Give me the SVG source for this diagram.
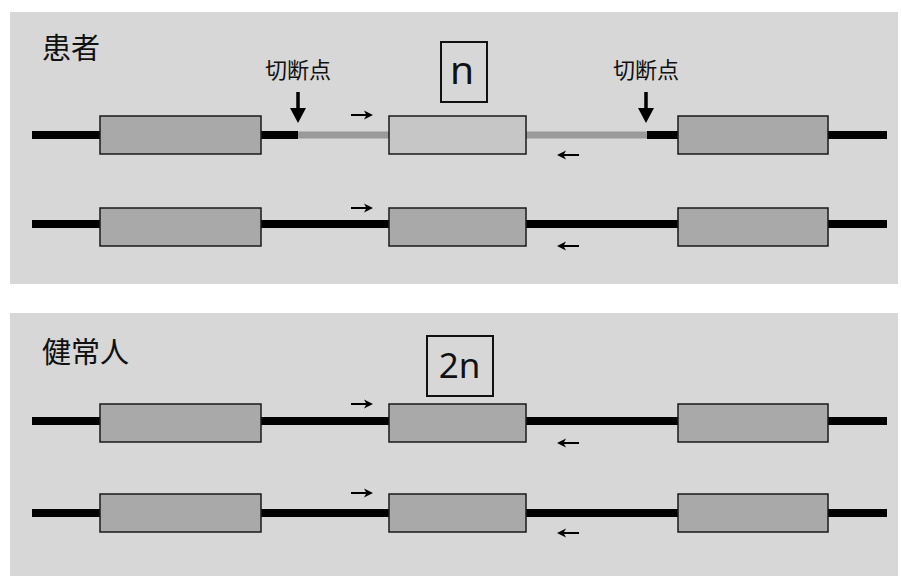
<svg xmlns="http://www.w3.org/2000/svg" width="901" height="576" viewBox="0 0 901 576">
  <style>
    .panel { fill: #d7d7d7; }
    .exon { fill: #a9a9a9; stroke: #1a1a1a; stroke-width: 1.5; }
    .exon-lite { fill: #c6c6c6; stroke: #1a1a1a; stroke-width: 1.5; }
    .dna { stroke: #000; stroke-width: 8; fill: none; }
    .dna-del { stroke: #9a9a9a; stroke-width: 7; fill: none; }
    .primer { stroke: #000; stroke-width: 2; fill: none; }
    .cut { stroke: #000; stroke-width: 3.5; fill: none; }
    .title { font-family: "Noto Sans CJK JP", "Noto Sans", sans-serif; font-size: 29px; fill: #111; }
    .cutlabel { font-family: "Noto Sans CJK JP", "Noto Sans", sans-serif; font-size: 22px; fill: #111; }
    .copy { font-family: "Noto Sans", "Open Sans", sans-serif; fill: #111; }
    .copybox { fill: none; stroke: #111; stroke-width: 2; }
  </style>
  <defs>
    <!-- primer arrowhead, drawn pointing right from its origin -->
    <path id="head" d="M0,0 L-9,-4.5 L-6.5,0 L-9,4.5 Z" fill="#000"/>
  </defs>

  <rect x="0" y="0" width="901" height="576" fill="#ffffff"/>

  <!-- panel backgrounds -->
  <g id="panel-patient">
    <rect class="panel" x="10" y="12" width="888" height="272"/>
    <text class="title" x="42" y="59">患者</text>
  </g>
  <g id="panel-healthy">
    <rect class="panel" x="10" y="313" width="888" height="263"/>
    <text class="title" x="42" y="363" font-size="31">健常人</text>
  </g>

  <!-- DNA strands and primers -->
  <g id="connectors">
    <!-- patient, allele with deletion -->
    <line class="dna" x1="32" y1="135" x2="298" y2="135"/>
    <line class="dna-del" x1="298" y1="135" x2="390" y2="135"/>
    <line class="dna-del" x1="525" y1="135" x2="647" y2="135"/>
    <line class="dna" x1="647" y1="135" x2="887" y2="135"/>
    <!-- patient, intact allele -->
    <line class="dna" x1="32" y1="224" x2="887" y2="224"/>
    <!-- healthy alleles -->
    <line class="dna" x1="32" y1="421" x2="887" y2="421"/>
    <line class="dna" x1="32" y1="513" x2="887" y2="513"/>

    <!-- breakpoint arrows -->
    <line class="cut" x1="298" y1="92" x2="298" y2="112"/>
    <path d="M290,108 L306,108 L298,123 Z" fill="#000"/>
    <line class="cut" x1="646" y1="92" x2="646" y2="112"/>
    <path d="M638,108 L654,108 L646,123 Z" fill="#000"/>

    <!-- forward primers -->
    <line class="primer" x1="351" y1="115" x2="368" y2="115"/>
    <use href="#head" x="373" y="115"/>
    <line class="primer" x1="351" y1="208" x2="368" y2="208"/>
    <use href="#head" x="373" y="208"/>
    <line class="primer" x1="351" y1="404" x2="368" y2="404"/>
    <use href="#head" x="373" y="404"/>
    <line class="primer" x1="351" y1="493" x2="368" y2="493"/>
    <use href="#head" x="373" y="493"/>
    <!-- reverse primers -->
    <line class="primer" x1="579" y1="155" x2="562" y2="155"/>
    <use href="#head" transform="translate(557 155) scale(-1 1)"/>
    <line class="primer" x1="579" y1="246" x2="562" y2="246"/>
    <use href="#head" transform="translate(557 246) scale(-1 1)"/>
    <line class="primer" x1="579" y1="443" x2="562" y2="443"/>
    <use href="#head" transform="translate(557 443) scale(-1 1)"/>
    <line class="primer" x1="579" y1="533" x2="562" y2="533"/>
    <use href="#head" transform="translate(557 533) scale(-1 1)"/>
  </g>

  <!-- breakpoint labels -->
  <g id="label-cut-left"><text class="cutlabel" x="298" y="78" text-anchor="middle">切断点</text></g>
  <g id="label-cut-right"><text class="cutlabel" x="646" y="78" text-anchor="middle">切断点</text></g>

  <!-- copy number labels -->
  <g id="copy-n">
    <rect class="copybox" x="441" y="42" width="46" height="60"/>
    <text class="copy" x="462" y="84" font-size="39" text-anchor="middle">n</text>
  </g>
  <g id="copy-2n">
    <rect class="copybox" x="427" y="336" width="66" height="60"/>
    <text class="copy" x="459.5" y="378" font-size="35" text-anchor="middle">2n</text>
  </g>

  <!-- exons, patient deletion allele -->
  <g id="exon-p1-a"><rect class="exon" x="100" y="116" width="161" height="38"/></g>
  <g id="exon-p1-b"><rect class="exon-lite" x="389" y="116" width="137" height="38"/></g>
  <g id="exon-p1-c"><rect class="exon" x="678" y="116" width="150" height="38"/></g>
  <!-- exons, patient intact allele -->
  <g id="exon-p2-a"><rect class="exon" x="100" y="208" width="161" height="38"/></g>
  <g id="exon-p2-b"><rect class="exon" x="389" y="208" width="137" height="38"/></g>
  <g id="exon-p2-c"><rect class="exon" x="678" y="208" width="150" height="38"/></g>
  <!-- exons, healthy alleles -->
  <g id="exon-h1-a"><rect class="exon" x="100" y="404" width="161" height="38"/></g>
  <g id="exon-h1-b"><rect class="exon" x="389" y="404" width="137" height="38"/></g>
  <g id="exon-h1-c"><rect class="exon" x="678" y="404" width="150" height="38"/></g>
  <g id="exon-h2-a"><rect class="exon" x="100" y="494" width="161" height="38"/></g>
  <g id="exon-h2-b"><rect class="exon" x="389" y="494" width="137" height="38"/></g>
  <g id="exon-h2-c"><rect class="exon" x="678" y="494" width="150" height="38"/></g>
</svg>
